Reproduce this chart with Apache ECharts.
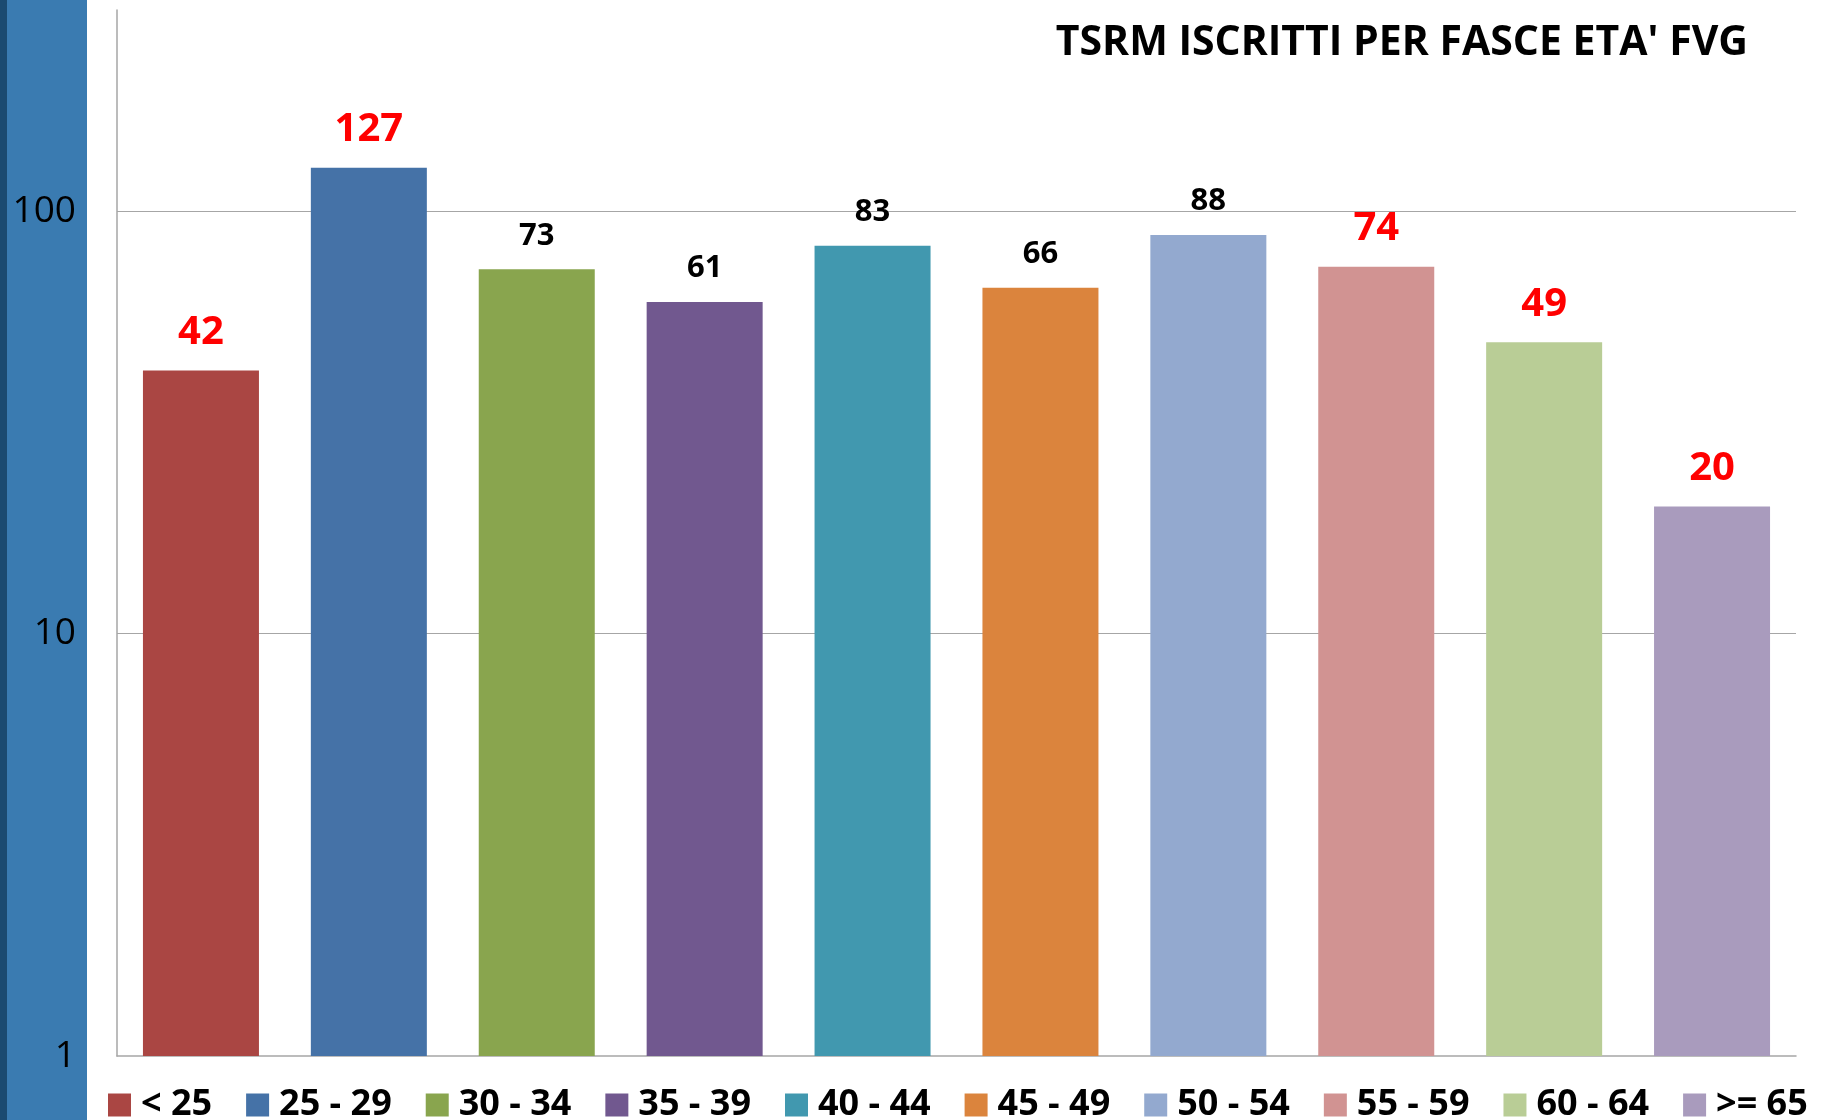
<!DOCTYPE html>
<html lang="it">
<head>
    <meta charset="UTF-8">
    <title>TSRM iscritti per fasce eta' FVG</title>
    <script src="https://cdn.jsdelivr.net/npm/echarts@6/dist/echarts.min.js"></script>
    <style>
        html, body { margin: 0; padding: 0; background: #fff; }
    </style>
</head>
<body>
<div id="main" style="width: 1825px;height:1120px;"></div>
<script>
    // fasce d'eta' e numero di iscritti
    const categories = ['< 25', '25 - 29', '30 - 34', '35 - 39', '40 - 44', '45 - 49', '50 - 54', '55 - 59', '60 - 64', '>= 65'];
    const iscritti = [42, 127, 73, 61, 83, 66, 88, 74, 49, 20];
    const yTicks = [1, 10, 100];

    // stile
    const colors = ['#AA4643', '#4572A7', '#89A54E', '#71588F', '#4198AF', '#DB843D', '#93A9CF', '#D19392', '#B9CD96', '#A99BBD'];
    const redLabels = ['< 25', '25 - 29', '55 - 59', '60 - 64', '>= 65'];
    const font = "'Open Sans', sans-serif";

    var myChart = echarts.init(document.getElementById('main'));

    let series = [];
    for (let i = 0; i < categories.length; i++) {
        let red = redLabels.includes(categories[i]);
        series.push({
            name: categories[i],
            type: 'bar',
            barWidth: 116,
            barGap: '-100%',
            itemStyle: { color: colors[i] },
            data: categories.map((c, j) => j === i ? iscritti[i] : '-'),
            label: {
                show: true,
                position: 'top',
                distance: 18,
                color: red ? '#FF0000' : '#000000',
                fontFamily: font,
                fontWeight: 'bold',
                fontSize: red ? 40 : 31
            },
            z: 3
        });
    }

    option = {
        animation: false,
        backgroundColor: '#ffffff',
        color: colors,
        graphic: [
            { type: 'rect', left: 0, top: 0, shape: { width: 87, height: 1120 }, style: { fill: '#3A7BB1' }, z: -10 },
            { type: 'rect', left: 0, top: 0, shape: { width: 7, height: 1120 }, style: { fill: '#1B4A70' }, z: -9 }
        ],
        title: {
            text: "TSRM ISCRITTI PER FASCE ETA' FVG",
            right: 72,
            top: 18,
            textStyle: {
                fontFamily: font,
                fontWeight: 'bold',
                fontSize: 41,
                color: '#000'
            }
        },
        legend: {
            data: categories,
            left: 103,
            top: 1082,
            itemWidth: 23,
            itemHeight: 23,
            itemGap: 34,
            icon: 'rect',
            selectedMode: false,
            textStyle: {
                fontFamily: font,
                fontWeight: 'bold',
                fontSize: 36,
                color: '#000',
                padding: [0, 0, 0, 5]
            }
        },
        grid: {
            left: 117,
            right: 29,
            top: 10,
            bottom: 64,
            containLabel: false
        },
        xAxis: {
            type: 'category',
            data: categories,
            axisLabel: { show: false },
            axisTick: { show: false },
            axisLine: { lineStyle: { color: '#A6A6A6', width: 1.5 } }
        },
        yAxis: {
            type: 'log',
            logBase: 10,
            min: yTicks[0],
            max: 300,
            axisLine: { show: true, lineStyle: { color: '#A6A6A6', width: 1.5 } },
            axisTick: { show: false },
            axisLabel: {
                showMaxLabel: false,
                margin: 41,
                color: '#000',
                fontFamily: font,
                fontSize: 37,
                formatter: function (v) { return yTicks.includes(Math.round(v)) ? Math.round(v) : ''; }
            },
            splitLine: {
                show: true,
                showMaxLine: false,
                showMinLine: false,
                lineStyle: { color: '#A6A6A6', width: 1.2 }
            }
        },
        series
    };

    myChart.setOption(option);
</script>
</body>
</html>
